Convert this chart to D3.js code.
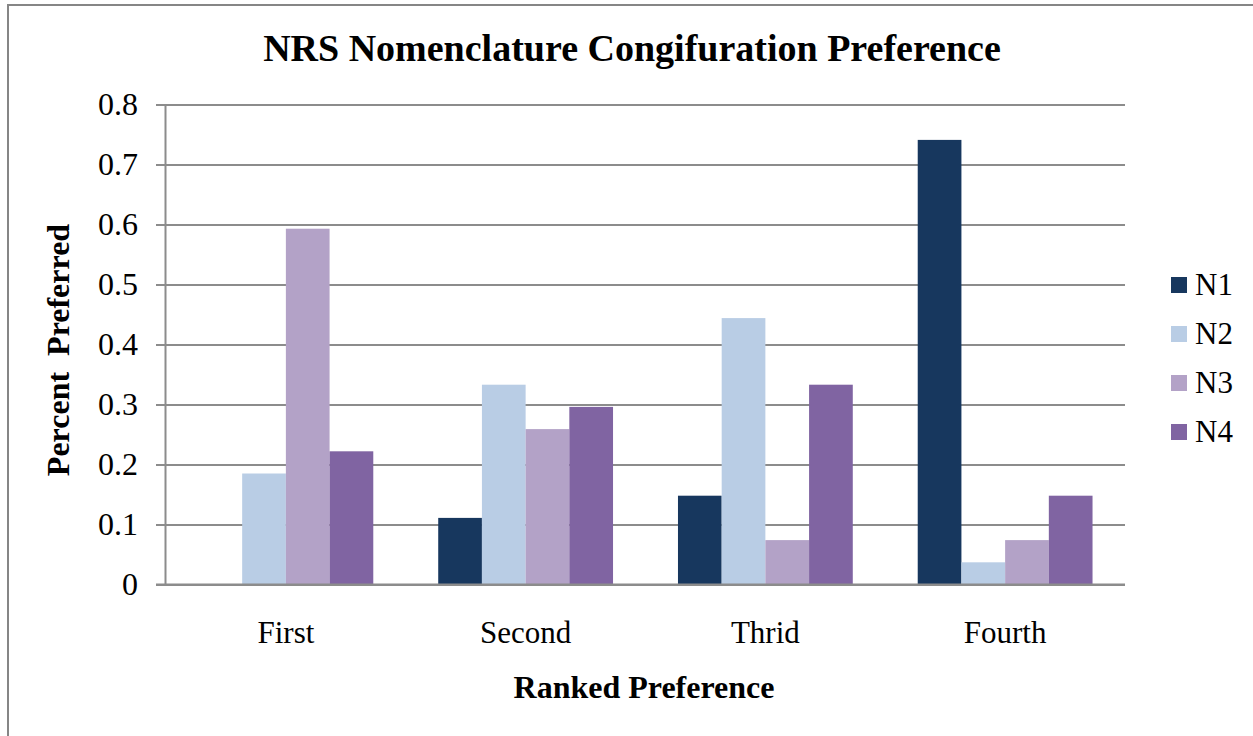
<!DOCTYPE html>
<html>
<head>
<meta charset="utf-8">
<script src="https://cdn.jsdelivr.net/npm/d3@7"></script>
<style>
  body { margin: 0; background: #fff; }
</style>
</head>
<body>
<div id="chart"></div>
<script>
const categories = ["First", "Second", "Thrid", "Fourth"];
const seriesNames = ["N1", "N2", "N3", "N4"];
const n1 = [0, 0.111, 0.148, 0.741];
const n2 = [0.185, 0.333, 0.444, 0.037];
const n3 = [0.593, 0.259, 0.074, 0.074];
const n4 = [0.222, 0.296, 0.333, 0.148];
const yTicks = [0, 0.1, 0.2, 0.3, 0.4, 0.5, 0.6, 0.7, 0.8];

const colors = ["#17375E", "#B9CDE5", "#B3A2C7", "#8064A2"];
const seriesValues = [n1, n2, n3, n4];

// rows for the grouped bars
const rows = [];
categories.forEach((c, i) => {
  seriesNames.forEach((s, j) => {
    rows.push({ cat: c, series: s, value: seriesValues[j][i], color: colors[j] });
  });
});

const font = "'Liberation Serif', 'Times New Roman', serif";

const svg = d3.select("#chart")
  .append("svg")
  .attr("width", 1253)
  .attr("height", 736);

// chart frame
svg.append("rect")
  .attr("x", 8)
  .attr("y", 5)
  .attr("width", 1300)
  .attr("height", 800)
  .attr("fill", "#fff")
  .attr("stroke", "#868686")
  .attr("stroke-width", 2);

// scales
const xScale = d3.scaleBand()
  .domain(categories)
  .range([166, 1125]);

const xInner = d3.scaleBand()
  .domain(seriesNames)
  .range([0, xScale.bandwidth()])
  .paddingInner(0)
  .paddingOuter(0.743);

const yScale = d3.scaleLinear()
  .domain([0, 0.8])
  .range([584.5, 104.5]);

// y axis with gridlines
const yAxis = d3.axisLeft(yScale)
  .tickValues(yTicks)
  .tickFormat(d => d === 0 ? "0" : d3.format(".1f")(d))
  .tickSize(-(1125 - 156))
  .tickPadding(18);

const yAxisGroup = svg.append("g")
  .attr("transform", "translate(1125,0)")
  .call(yAxis);

yAxisGroup.select(".domain").remove();

yAxisGroup.selectAll(".tick line")
  .attr("stroke", "#8c8c8c")
  .attr("stroke-width", 2)
  .attr("transform", "translate(-969,0)")
  .attr("x2", 969);

yAxisGroup.selectAll(".tick text")
  .attr("x", -969 - 18)
  .attr("fill", "#000")
  .attr("font-family", font)
  .attr("font-size", 32)
  .attr("text-anchor", "end");

// bars
svg.append("g")
  .selectAll("rect")
  .data(rows)
  .join("rect")
  .attr("x", d => xScale(d.cat) + xInner(d.series))
  .attr("y", d => yScale(d.value))
  .attr("width", xInner.bandwidth())
  .attr("height", d => yScale(0) - yScale(d.value))
  .attr("fill", d => d.color);

// vertical axis line
svg.append("line")
  .attr("x1", 165.5)
  .attr("x2", 165.5)
  .attr("y1", yScale(0.8))
  .attr("y2", yScale(0))
  .attr("stroke", "#8c8c8c")
  .attr("stroke-width", 2);

// x axis
const xAxis = d3.axisBottom(xScale)
  .tickSize(0)
  .tickPadding(36);

const xAxisGroup = svg.append("g")
  .attr("transform", `translate(0,${yScale(0)})`)
  .call(xAxis);

xAxisGroup.select(".domain").remove();

svg.append("line")
  .attr("x1", 156)
  .attr("x2", 1125)
  .attr("y1", yScale(0))
  .attr("y2", yScale(0))
  .attr("stroke", "#8c8c8c")
  .attr("stroke-width", 2);

xAxisGroup.selectAll(".tick text")
  .attr("fill", "#000")
  .attr("font-family", font)
  .attr("font-size", 31);

// title
svg.append("text")
  .text("NRS Nomenclature Congifuration Preference")
  .attr("x", 632)
  .attr("y", 61)
  .attr("text-anchor", "middle")
  .attr("font-family", font)
  .attr("font-weight", 700)
  .attr("font-size", 38)
  .attr("fill", "#000");

// axis titles
svg.append("text")
  .text("Ranked Preference")
  .attr("x", 644)
  .attr("y", 698)
  .attr("text-anchor", "middle")
  .attr("font-family", font)
  .attr("font-weight", 700)
  .attr("font-size", 32)
  .attr("fill", "#000");

svg.append("text")
  .text("Percent\u00A0 Preferred")
  .attr("transform", "translate(69,350) rotate(-90)")
  .attr("text-anchor", "middle")
  .attr("font-family", font)
  .attr("font-weight", 700)
  .attr("font-size", 32)
  .attr("fill", "#000");

// legend
const legend = svg.append("g")
  .attr("transform", "translate(1171,277)");

const legendItems = legend.selectAll("g")
  .data(seriesNames)
  .join("g")
  .attr("transform", (d, i) => `translate(0,${i * 49})`);

legendItems.append("rect")
  .attr("width", 16)
  .attr("height", 16)
  .attr("fill", (d, i) => colors[i]);

legendItems.append("text")
  .text(d => d)
  .attr("x", 24)
  .attr("y", 18)
  .attr("font-family", font)
  .attr("font-size", 31)
  .attr("fill", "#000");
</script>
</body>
</html>
